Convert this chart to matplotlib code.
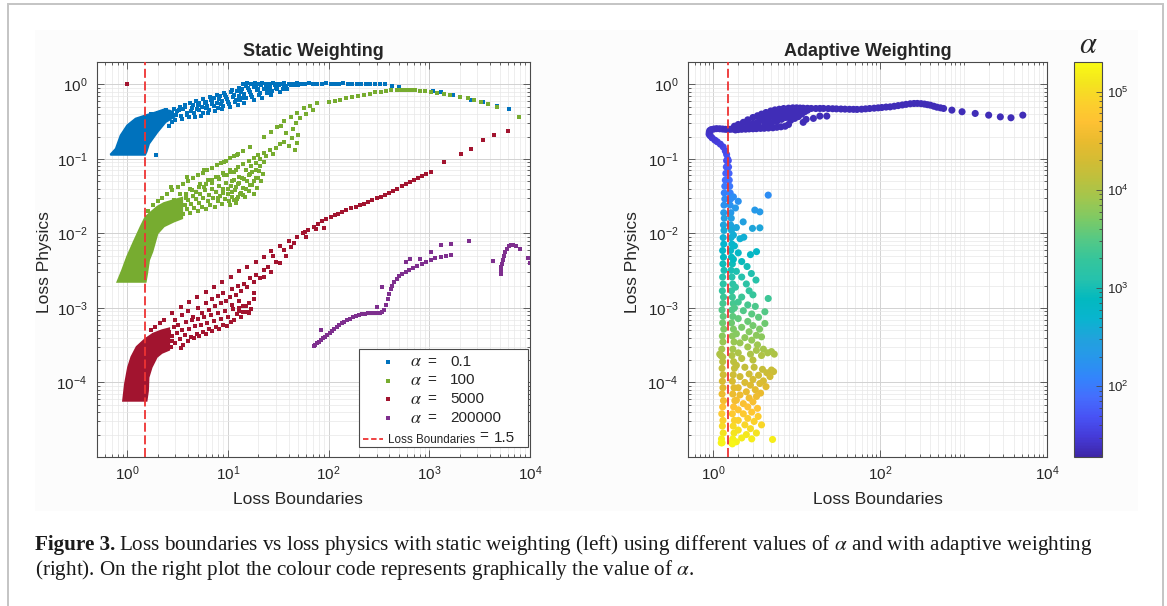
import numpy as np
import matplotlib
matplotlib.use("Agg")
import matplotlib.pyplot as plt
from matplotlib.colors import LinearSegmentedColormap, LogNorm
from matplotlib.ticker import FixedLocator, NullFormatter
from matplotlib.patches import Rectangle
from matplotlib.cm import ScalarMappable

plt.rcParams['font.family'] = ['Liberation Sans', 'DejaVu Sans']
plt.rcParams['mathtext.fontset'] = 'stix'

# ---------------------------------------------------------------- data
boundary_value = 1.5
alpha_labels = ["0.1", "100", "5000", "200000"]
series_colors = ["#0072BD", "#77AC30", "#A2142F", "#7E2F8E"]

# static weighting, alpha = 0.1 (dense core outline + individual points)
blue_core = [(0.68, 0.114), (0.77, 0.137), (0.86, 0.207), (1.0, 0.282), (1.21, 0.347),
             (1.52, 0.384), (1.9, 0.42), (2.31, 0.46), (2.7, 0.44), (2.91, 0.365),
             (2.4, 0.313), (1.99, 0.23), (1.64, 0.16), (1.55, 0.125), (1.5, 0.114)]
blue_pts = [(1.91, 0.114), (1.7, 0.40), (1.9, 0.36), (2.0, 0.42), (2.1, 0.30), (2.2, 0.38),
            (2.4, 0.45), (2.5, 0.35), (2.6, 0.28), (2.8, 0.42), (2.9, 0.47),
            (3.0, 0.33), (3.1, 0.44), (3.3, 0.50), (3.4, 0.38), (3.6, 0.47), (3.7, 0.53),
            (3.9, 0.42), (4.1, 0.36), (4.2, 0.57), (4.4, 0.49), (4.6, 0.41), (4.8, 0.60),
            (5.0, 0.53), (5.2, 0.45), (5.4, 0.38), (5.6, 0.63), (5.9, 0.56), (6.1, 0.48),
            (6.3, 0.42), (6.6, 0.67), (6.9, 0.59), (7.2, 0.51), (7.5, 0.44), (7.8, 0.72),
            (8.1, 0.63), (8.5, 0.54), (8.8, 0.47), (9.2, 0.77), (9.6, 0.68), (10, 0.58),
            (10.5, 0.50), (11, 0.84), (11.5, 0.72), (12, 0.62), (12.5, 0.53), (13, 0.90),
            (13.5, 0.78), (14, 0.66), (14.5, 0.57), (15, 0.95), (16, 0.84), (17, 0.72),
            (18, 0.62), (19, 0.98), (20, 0.88), (21, 0.76), (22, 0.66), (24, 0.93),
            (25, 0.82), (27, 0.72), (29, 0.97), (31, 0.86), (33, 0.78), (36, 0.95),
            (39, 0.88), (42, 0.98),
            (2.2, 0.33), (2.35, 0.41), (2.65, 0.37), (2.75, 0.31), (3.05, 0.39), (3.25, 0.45),
            (3.5, 0.34), (3.75, 0.50), (3.95, 0.39), (4.3, 0.44), (4.5, 0.53), (4.7, 0.37),
            (4.9, 0.47), (5.1, 0.56), (5.5, 0.50), (5.7, 0.41), (6.0, 0.59), (6.2, 0.52),
            (6.5, 0.45), (6.8, 0.62), (7.0, 0.55), (7.3, 0.66), (7.7, 0.57), (8.0, 0.49),
            (8.3, 0.69), (8.7, 0.60), (9.0, 0.52), (9.4, 0.73), (9.8, 0.64), (10.3, 0.55),
            (10.8, 0.78), (11.2, 0.68), (11.8, 0.58), (12.3, 0.82), (12.8, 0.71), (13.3, 0.61),
            (13.8, 0.86), (14.3, 0.75), (15.2, 0.66), (15.7, 0.90), (16.5, 0.79), (17.5, 0.68),
            (18.3, 0.93), (19.5, 0.83), (20.5, 0.72), (21.5, 0.97), (23, 0.87), (24.5, 0.76),
            (26, 0.92), (27.5, 0.82), (30, 0.9), (32, 0.97), (35, 0.88), (38, 0.95),
            (45, 0.97), (50, 0.99),
            (14, 1.02), (15.5, 1.03), (17, 1.02), (18.5, 1.03), (20, 1.02), (22, 1.03),
            (24, 1.02), (26, 1.02), (28, 1.03), (30, 1.02), (33, 1.02), (36, 1.03),
            (40, 1.02), (44, 1.02), (48, 1.03), (53, 1.02), (58, 1.02), (64, 1.03),
            (70, 1.02), (77, 1.02), (85, 1.02), (94, 1.03), (105, 1.02), (115, 1.02),
            (128, 1.02), (140, 1.03), (155, 1.02), (170, 1.02), (190, 1.02), (210, 1.02),
            (235, 1.02), (260, 1.01), (290, 1.01), (320, 1.0), (360, 1.0),
            (430, 0.96), (500, 0.93), (1100, 0.82), (1300, 0.78), (1700, 0.72),
            (2600, 0.62), (3400, 0.58), (4700, 0.52), (6200, 0.47)]

# static weighting, alpha = 100
green_core = [(0.80, 0.00225), (0.89, 0.0032), (1.0, 0.0049), (1.16, 0.0077), (1.36, 0.0123),
              (1.52, 0.0167), (1.99, 0.0228), (2.31, 0.0255), (2.9, 0.028), (3.5, 0.030),
              (3.5, 0.016), (2.9, 0.0145), (2.31, 0.0125), (1.99, 0.010), (1.77, 0.0057),
              (1.64, 0.0044), (1.57, 0.0029), (1.52, 0.00225)]
green_pts = [(1.6, 0.020), (1.8, 0.024), (2.0, 0.027), (2.2, 0.030), (2.5, 0.034), (2.8, 0.038),
             (3.2, 0.042), (3.6, 0.046), (4.0, 0.050), (4.5, 0.055), (5.0, 0.060), (5.6, 0.065),
             (6.2, 0.070), (7.0, 0.076), (7.8, 0.082), (8.6, 0.088), (9.5, 0.095), (10.5, 0.102),
             (11.5, 0.110), (12.5, 0.118), (14, 0.128),
             (2.4, 0.022), (2.9, 0.028), (3.3, 0.034), (3.8, 0.030), (4.2, 0.040), (4.8, 0.036),
             (5.3, 0.046), (5.8, 0.042), (6.4, 0.052), (7.0, 0.048), (7.6, 0.058), (8.2, 0.054),
             (9.0, 0.064), (9.8, 0.060), (10.5, 0.072), (11, 0.050), (11.5, 0.066), (12.5, 0.078),
             (13, 0.058), (14, 0.086), (15, 0.070), (16, 0.094), (17, 0.080), (18, 0.104),
             (19, 0.088), (20, 0.112), (21, 0.10), (23, 0.12), (24, 0.108), (26, 0.13),
             (28, 0.118), (30, 0.14), (33, 0.16), (36, 0.17), (40, 0.15), (43, 0.19),
             (46, 0.13), (48, 0.165), (50, 0.21),
             (3.6, 0.018), (3.7, 0.024), (3.9, 0.021), (4.0, 0.028), (4.2, 0.019), (4.3, 0.025),
             (4.5, 0.032), (4.6, 0.022), (4.8, 0.029), (5.0, 0.020), (5.1, 0.026), (5.3, 0.034),
             (5.5, 0.023), (5.7, 0.030), (5.9, 0.038), (6.1, 0.021), (6.3, 0.027), (6.5, 0.033),
             (6.7, 0.024), (6.9, 0.040), (7.1, 0.030), (7.4, 0.023), (7.6, 0.036), (7.9, 0.027),
             (8.2, 0.044), (8.4, 0.032), (8.7, 0.025), (9.0, 0.039), (9.3, 0.029), (9.6, 0.047),
             (9.9, 0.034), (10.2, 0.027), (10.6, 0.043), (11, 0.031), (11.4, 0.052),
             (11.8, 0.038), (12.2, 0.029), (12.7, 0.046), (13.2, 0.034), (13.7, 0.056),
             (14.2, 0.041), (14.8, 0.031), (15.4, 0.05), (16, 0.037), (16.7, 0.062),
             (17.4, 0.045), (18, 0.034), (18.8, 0.055), (19.5, 0.041), (20.5, 0.068),
             (21.5, 0.05), (22.5, 0.062), (3.3, 0.026), (3.4, 0.020), (3.8, 0.034), (4.4, 0.038),
             (5.2, 0.042), (6.0, 0.046), (7.0, 0.052), (8.0, 0.058), (9.2, 0.06), (10.5, 0.066),
             (12, 0.07),
             (10.5, 0.024), (11.5, 0.028), (12.5, 0.031), (13.5, 0.035), (15, 0.040),
             (16.5, 0.045), (18, 0.05), (20, 0.056), (11, 0.036), (12, 0.042), (13, 0.048),
             (14.5, 0.053), (16, 0.06), (17.5, 0.066), (19, 0.072), (21, 0.08), (22.8, 0.09),
             (10, 0.04), (9, 0.035), (8, 0.03), (12, 0.026), (14, 0.033),
             (2.7, 0.042), (3.95, 0.058), (5.8, 0.071), (9.1, 0.092), (12.4, 0.112),
             (16.7, 0.146), (22.8, 0.198), (27, 0.23), (31, 0.27), (36, 0.32), (42, 0.37),
             (49, 0.42), (57, 0.48), (66, 0.52), (77, 0.556), (44, 0.25), (38, 0.22),
             (47, 0.3), (52, 0.35), (60, 0.4), (70, 0.45), (34, 0.28),
             (100, 0.585), (115, 0.60), (130, 0.62), (150, 0.65), (170, 0.67), (195, 0.69),
             (225, 0.72), (255, 0.75), (290, 0.78), (330, 0.80), (370, 0.815), (420, 0.83),
             (480, 0.84), (520, 0.845), (560, 0.845), (610, 0.84), (660, 0.835), (720, 0.83),
             (800, 0.82), (900, 0.81), (1030, 0.80), (1200, 0.76), (1400, 0.74), (1620, 0.72),
             (2000, 0.68), (2400, 0.65), (2800, 0.62), (3250, 0.58), (3800, 0.54),
             (4700, 0.50), (7800, 0.36)]

# static weighting, alpha = 5000
red_core = [(0.91, 5.7e-5), (0.95, 9.5e-5), (1.02, 1.6e-4), (1.1, 2.2e-4), (1.24, 3.0e-4),
            (1.5, 3.8e-4), (1.8, 4.5e-4), (2.2, 5.0e-4), (2.6, 5.3e-4), (2.6, 2.75e-4),
            (2.2, 2.5e-4), (1.96, 2.2e-4), (1.74, 1.6e-4), (1.62, 1.17e-4), (1.6, 7.7e-5),
            (1.55, 5.7e-5)]
red_pts = [(1.0, 1.0), (1.9, 5.6e-4), (2.1, 6.2e-4), (1.7, 5.0e-4),
           (2.3, 6.8e-4), (2.8, 8.5e-4), (3.4, 1.03e-3), (4.1, 1.2e-3), (4.96, 1.4e-3),
           (6.0, 1.65e-3), (7.3, 1.9e-3), (8.8, 2.2e-3), (10.6, 2.6e-3), (12.8, 3.1e-3),
           (15.6, 3.6e-3), (19, 4.2e-3), (22.8, 4.9e-3), (27, 5.8e-3), (33, 6.7e-3),
           (40, 7.8e-3), (49, 9.1e-3), (58, 1.05e-2), (71, 1.23e-2), (86, 1.45e-2),
           (105, 1.67e-2), (125, 1.85e-2), (150, 2.06e-2), (185, 2.3e-2), (225, 2.5e-2),
           (270, 2.8e-2), (330, 3.1e-2), (400, 3.5e-2), (480, 4.0e-2), (590, 4.6e-2),
           (710, 5.2e-2), (850, 5.9e-2), (1030, 6.7e-2), (1400, 9.2e-2), (2050, 0.118),
           (2600, 0.138), (3400, 0.18), (4400, 0.21), (6000, 0.24),
           (55, 1.0e-2), (63, 1.1e-2), (78, 1.35e-2), (95, 1.55e-2), (115, 1.75e-2),
           (137, 1.95e-2), (165, 2.2e-2), (205, 2.4e-2), (245, 2.65e-2), (300, 2.95e-2),
           (360, 3.3e-2), (440, 3.75e-2), (530, 4.3e-2), (650, 4.9e-2), (780, 5.5e-2),
           (930, 6.2e-2), (60, 9.0e-3), (75, 1.15e-2), (90, 1.2e-2),
           (3.0, 7.0e-4), (3.5, 8.0e-4), (4.0, 9.0e-4), (4.5, 7.5e-4), (5.0, 1.0e-3),
           (5.5, 8.5e-4), (6.0, 1.15e-3), (6.5, 9.5e-4), (7.0, 1.3e-3), (7.5, 1.05e-3),
           (8.0, 1.45e-3), (8.5, 1.15e-3), (9.0, 1.6e-3), (9.5, 1.25e-3), (10.5, 1.4e-3),
           (11, 1.8e-3), (12, 1.5e-3), (12.5, 2.0e-3), (13.5, 1.7e-3), (14.4, 2.1e-3),
           (15.6, 1.9e-3), (16.5, 2.5e-3), (18, 2.2e-3), (19, 2.8e-3), (21, 2.5e-3),
           (22.8, 2.6e-3), (23, 3.2e-3), (25, 3.6e-3), (27, 3.0e-3), (30, 4.2e-3),
           (33, 4.0e-3), (36, 6.0e-3), (38, 5.0e-3), (42, 6.5e-3), (45, 7.5e-3),
           (15.6, 8.9e-4), (13, 1.25e-3), (18, 1.6e-3), (28, 5.0e-3), (11, 1.1e-3),
           (13, 9.0e-4), (14, 1.05e-3), (16, 1.15e-3), (18, 1.3e-3),
           (2.7, 3.0e-4), (2.8, 4.2e-4), (2.9, 5.5e-4), (3.0, 3.4e-4), (3.1, 4.6e-4),
           (3.2, 6.0e-4), (3.3, 3.8e-4), (3.5, 5.0e-4), (3.6, 3.2e-4), (3.7, 4.3e-4),
           (3.8, 6.4e-4), (4.0, 3.6e-4), (4.1, 5.3e-4), (4.3, 4.1e-4), (4.4, 6.8e-4),
           (4.6, 3.9e-4), (4.7, 5.7e-4), (4.9, 4.5e-4), (5.0, 7.1e-4), (5.2, 4.2e-4),
           (5.4, 6.0e-4), (5.6, 4.8e-4), (5.8, 7.5e-4), (6.0, 4.5e-4), (6.2, 6.3e-4),
           (6.5, 5.2e-4), (6.8, 8.0e-4), (7.0, 4.9e-4), (7.3, 6.7e-4), (7.6, 5.6e-4),
           (7.9, 8.5e-4), (8.2, 5.3e-4), (8.5, 7.1e-4), (8.9, 6.0e-4), (9.3, 9.0e-4),
           (9.7, 5.8e-4), (10.1, 7.6e-4), (10.6, 6.5e-4), (11.1, 9.6e-4), (11.6, 7.0e-4),
           (12.2, 8.2e-4), (12.8, 1.0e-3), (13.5, 7.6e-4), (14.2, 8.8e-4), (15, 1.05e-3),
           (16, 8.5e-4), (17, 9.6e-4), (2.5, 3.2e-4), (2.4, 4.0e-4), (2.6, 4.8e-4),
           (2.8, 3.6e-4), (3.4, 2.9e-4), (2.3, 2.8e-4), (2.1, 3.3e-4), (1.9, 2.6e-4)]

# static weighting, alpha = 200000
purple_pts = [(71, 3.1e-4), (74, 3.2e-4), (77, 3.35e-4), (80, 3.5e-4), (84, 3.7e-4),
              (88, 3.9e-4), (92, 4.1e-4), (97, 4.35e-4), (102, 4.6e-4), (108, 4.9e-4),
              (114, 5.2e-4), (120, 5.5e-4), (127, 5.85e-4), (135, 6.2e-4), (143, 6.55e-4),
              (152, 6.9e-4), (162, 7.2e-4), (173, 7.5e-4), (185, 7.8e-4), (198, 8.0e-4),
              (212, 8.2e-4), (228, 8.35e-4), (245, 8.45e-4), (263, 8.5e-4), (283, 8.5e-4),
              (303, 8.5e-4), (322, 8.55e-4), (340, 8.8e-4), (355, 9.5e-4), (370, 1.1e-3),
              (385, 1.3e-3), (400, 1.55e-3), (415, 1.8e-3), (430, 2.0e-3), (450, 2.2e-3),
              (475, 2.45e-3), (505, 2.65e-3), (540, 2.85e-3), (580, 3.05e-3), (630, 3.25e-3),
              (690, 3.45e-3), (760, 3.7e-3), (840, 3.95e-3), (930, 4.2e-3), (1030, 4.45e-3),
              (1150, 4.65e-3), (1300, 4.85e-3), (1450, 5.0e-3), (1650, 5.1e-3),
              (83, 5.0e-4), (300, 1.04e-3), (340, 1.9e-3), (590, 4.2e-3), (1030, 5.7e-3),
              (1300, 6.9e-3), (1650, 7.3e-3), (2450, 7.9e-3), (650, 4.5e-3), (800, 4.6e-3),
              (5100, 2.9e-3), (5150, 3.2e-3), (5200, 3.5e-3), (5250, 3.9e-3), (5350, 4.4e-3),
              (5500, 5.0e-3), (5700, 5.6e-3), (5900, 6.2e-3), (6150, 6.7e-3), (6450, 6.9e-3),
              (6800, 6.9e-3), (7200, 6.8e-3), (4300, 4.3e-3), (8000, 6.2e-3), (9500, 4.7e-3),
              (9900, 4.0e-3)]

# adaptive weighting: early iterations (lowest alpha), upper band
adapt_band_alpha = 22
adapt_band_pts = [(1.85, 0.245), (2.0, 0.248), (2.2, 0.250), (2.45, 0.251), (2.7, 0.253),
                  (3.0, 0.254), (3.3, 0.255), (3.7, 0.257), (4.1, 0.258), (4.6, 0.26),
                  (5.2, 0.262), (5.8, 0.266), (6.5, 0.27), (7.3, 0.275), (8.0, 0.29),
                  (1.8, 0.275), (2.0, 0.29), (2.3, 0.31), (2.6, 0.335), (3.0, 0.36),
                  (3.4, 0.38), (3.8, 0.40), (4.3, 0.42), (4.9, 0.44), (5.5, 0.455),
                  (6.2, 0.465), (7.0, 0.475), (8.0, 0.48), (9.0, 0.485), (10, 0.485),
                  (11, 0.482), (2.2, 0.27), (2.6, 0.285), (3.0, 0.30), (3.4, 0.31),
                  (3.8, 0.33), (4.2, 0.35), (4.7, 0.37), (5.2, 0.39), (5.8, 0.41),
                  (6.4, 0.43), (7.0, 0.44), (7.7, 0.45), (2.8, 0.265), (3.5, 0.28),
                  (4.2, 0.29), (5.0, 0.30), (5.8, 0.32), (6.6, 0.34), (7.4, 0.36),
                  (8.2, 0.38), (9.0, 0.40), (9.8, 0.42), (10.6, 0.44), (11.5, 0.46),
                  (4.6, 0.32), (5.4, 0.35), (6.0, 0.37), (6.8, 0.40), (7.6, 0.42),
                  (8.6, 0.44), (9.5, 0.46), (8.5, 0.33), (9.5, 0.35), (10.5, 0.37),
                  (11.5, 0.40), (12.5, 0.43), (13.5, 0.45), (15.9, 0.35), (19, 0.376),
                  (23, 0.376), (12, 0.31), (13, 0.34),
                  (12, 0.48), (13.5, 0.478), (15, 0.476), (17, 0.475), (19, 0.476),
                  (21, 0.476), (24, 0.474), (27, 0.472), (30, 0.47), (34, 0.468),
                  (38, 0.466), (43, 0.464), (48, 0.463), (53, 0.462), (60, 0.465),
                  (67, 0.47), (75, 0.475), (85, 0.48), (95, 0.485), (105, 0.49),
                  (118, 0.497), (132, 0.50), (148, 0.51), (165, 0.52), (185, 0.53),
                  (205, 0.54), (230, 0.55), (255, 0.555), (280, 0.556), (310, 0.552),
                  (340, 0.545), (370, 0.535), (400, 0.527), (440, 0.51), (480, 0.495),
                  (530, 0.485), (577, 0.476), (725, 0.452), (960, 0.43), (1380, 0.408),
                  (2000, 0.387), (2760, 0.367), (3700, 0.357), (5130, 0.387)]
# adaptive weighting: hook (x, y, alpha)
adapt_hook = [(1.49, 0.10, 50), (1.45, 0.115, 46), (1.40, 0.128, 42), (1.32, 0.145, 38),
              (1.22, 0.158, 35), (1.12, 0.170, 33), (1.05, 0.179, 31), (0.97, 0.192, 30),
              (0.92, 0.205, 29), (0.895, 0.215, 28), (0.90, 0.228, 27), (0.91, 0.240, 26),
              (0.95, 0.248, 25), (1.02, 0.252, 25), (1.1, 0.255, 24), (1.2, 0.254, 24),
              (1.3, 0.252, 24), (1.4, 0.250, 23), (1.5, 0.249, 23), (1.6, 0.250, 23),
              (1.7, 0.252, 23)]
# adaptive weighting: vertical column near the boundary line
col_y = [0.095, 0.078, 0.064, 0.052, 0.043, 0.035, 0.029, 0.024, 0.019, 0.016, 0.013,
         0.011, 0.0088, 0.0072, 0.0059, 0.0048, 0.0039, 0.0032, 0.0026, 0.0021, 0.0017,
         0.0014, 0.00115, 0.00094, 0.00077, 0.00063, 0.00052, 0.00042, 0.00035, 0.00028,
         0.00023, 0.00019, 0.000155, 0.000127, 0.000104, 8.5e-5, 7e-5, 5.7e-5, 4.7e-5,
         3.8e-5, 3.1e-5, 2.6e-5, 2.1e-5, 1.75e-5, 1.55e-5]
col_alpha = [45, 55, 65, 80, 95, 115, 140, 170, 210, 250, 300, 360, 430, 520, 620, 740,
             880, 1050, 1250, 1500, 1800, 2100, 2500, 3000, 3600, 4300, 5100, 6100, 7300,
             8700, 10500, 12500, 15000, 18000, 22000, 27000, 33000, 40000, 50000, 62000,
             78000, 95000, 120000, 150000, 170000]
col_xl = [1.45, 1.44, 1.42, 1.40, 1.38, 1.36, 1.38, 1.35, 1.34, 1.36, 1.33, 1.35, 1.32,
          1.34, 1.30, 1.33, 1.31, 1.35, 1.30, 1.32, 1.29, 1.33, 1.31, 1.28, 1.32, 1.30,
          1.34, 1.29, 1.31, 1.27, 1.24, 1.30, 1.28, 1.32, 1.29, 1.31, 1.28, 1.33, 1.30,
          1.27, 1.31, 1.29, 1.32, 1.26, 1.28]
col_xr = [1.52, 1.53, 1.55, 1.56, 1.58, 1.60, 1.62, 1.60, 1.63, 1.65, 1.62, 1.66, 1.64,
          1.68, 1.62, 1.66, 1.70, 1.64, 1.68, 1.72, 1.66, 1.70, 1.74, 1.68, 1.72, 1.66,
          1.75, 1.70, 1.78, 1.72, 1.68, 1.76, 1.80, 1.74, 1.70, 1.78, 1.72, 1.82, 1.76,
          1.70, 1.80, 1.74, 1.78, 1.72, 1.66]
col_scatter = [(4.57, 0.0327, 150), (2.0, 0.027, 170), (1.75, 0.031, 150), (1.85, 0.022, 200),
               (3.16, 0.0206, 210), (3.63, 0.0195, 220), (2.29, 0.0143, 280), (1.9, 0.012, 320),
               (2.96, 0.0117, 330), (3.63, 0.0119, 330), (1.75, 0.0095, 400), (2.1, 0.0085, 430),
               (2.33, 0.0089, 420), (1.8, 0.0068, 550), (3.31, 0.0057, 630), (2.8, 0.0052, 680),
               (2.0, 0.0055, 650), (1.75, 0.0045, 780), (2.2, 0.0042, 820), (2.55, 0.0036, 950),
               (2.87, 0.0029, 1150), (3.26, 0.00237, 1350), (1.9, 0.0031, 1100),
               (2.2, 0.0026, 1250), (2.5, 0.0021, 1500), (1.85, 0.0019, 1650),
               (2.7, 0.0017, 1800), (3.0, 0.0015, 2000), (2.2, 0.0014, 2100),
               (4.57, 0.00134, 2200), (2.0, 0.0012, 2400), (2.6, 0.0011, 2600),
               (3.2, 0.00105, 2700), (1.8, 0.001, 2800), (2.3, 0.00092, 3000),
               (4.17, 0.00089, 3100), (2.9, 0.00083, 3300), (3.5, 0.00075, 3600),
               (2.0, 0.00072, 3700), (2.6, 0.00066, 4000), (4.17, 0.00062, 4200),
               (3.0, 0.00058, 4500), (2.2, 0.00055, 4700), (3.6, 0.00052, 5000),
               (2.7, 0.00048, 5400), (1.9, 0.00045, 5700), (3.3, 0.00043, 6000),
               (3.8, 0.00041, 6200), (2.4, 0.0004, 6300), (2.9, 0.00037, 6800),
               (2.1, 0.00034, 7300), (3.4, 0.00032, 7800), (2.6, 0.0003, 8200),
               (4.0, 0.00028, 8700), (3.3, 0.00027, 9000), (5.0, 0.00026, 9200),
               (4.5, 0.00025, 9500), (2.0, 0.00025, 9600), (2.8, 0.00024, 9800),
               (3.8, 0.00023, 10500), (1.2, 0.00024, 10000), (1.3, 0.00022, 11000),
               (5.4, 0.00024, 10000), (2.2, 0.00021, 11500), (3.0, 0.0002, 12000),
               (1.9, 0.00017, 14000), (2.4, 0.00016, 14500), (3.1, 0.00016, 14500),
               (3.9, 0.00015, 15500), (5.0, 0.000147, 16000), (5.3, 0.00014, 17000),
               (4.4, 0.000135, 17500), (2.7, 0.00013, 18000), (3.5, 0.000125, 18500),
               (2.1, 0.00012, 19000), (4.8, 0.00012, 19500), (3.0, 0.00011, 21000),
               (4.0, 0.000105, 21500), (2.4, 0.0001, 22500), (3.63, 9.7e-5, 23500),
               (2.8, 9.2e-5, 25000), (4.3, 8.8e-5, 26000), (2.0, 8.5e-5, 27000),
               (3.2, 8.0e-5, 29000), (2.5, 7.5e-5, 31000), (3.7, 7.2e-5, 32000),
               (2.1, 6.8e-5, 34000), (3.31, 6.5e-5, 35000), (2.7, 6.2e-5, 37000),
               (1.9, 5.8e-5, 39000), (3.0, 5.5e-5, 42000), (2.3, 5.2e-5, 44000),
               (2.6, 4.7e-5, 50000), (3.4, 4.5e-5, 52000), (2.0, 4.3e-5, 55000),
               (2.9, 4.0e-5, 58000), (2.3, 3.8e-5, 62000), (3.46, 3.5e-5, 68000),
               (2.6, 3.3e-5, 72000), (2.0, 3.1e-5, 78000), (3.1, 3.0e-5, 80000),
               (3.8, 2.7e-5, 90000), (2.4, 2.7e-5, 90000), (2.8, 2.4e-5, 100000),
               (2.0, 2.3e-5, 110000), (3.3, 2.1e-5, 120000), (2.5, 2.0e-5, 125000),
               (2.2, 1.8e-5, 140000), (5.15, 1.72e-5, 145000), (2.9, 1.75e-5, 145000),
               (1.9, 1.6e-5, 160000), (1.25, 1.55e-5, 170000), (1.7, 1.5e-5, 175000)]

alpha_range = (19, 2.0e5)
cbar_ticks = [1e2, 1e3, 1e4, 1e5]

# parula colour map key colours
parula_keys = [(0.2422, 0.1504, 0.6603), (0.2691, 0.2304, 0.8470), (0.2810, 0.3228, 0.9579),
               (0.2691, 0.4290, 0.9926), (0.1986, 0.5217, 0.9870), (0.1540, 0.5902, 0.9218),
               (0.1280, 0.6386, 0.8627), (0.0356, 0.7071, 0.8104), (0.0118, 0.7243, 0.7497),
               (0.1480, 0.7596, 0.6754), (0.2073, 0.7738, 0.6104), (0.3300, 0.7860, 0.5240),
               (0.4800, 0.7910, 0.4030), (0.6192, 0.7796, 0.3147), (0.7305, 0.7561, 0.2458),
               (0.8260, 0.7371, 0.2048), (0.9119, 0.7325, 0.1821), (0.9956, 0.7574, 0.2016),
               (0.9847, 0.8173, 0.1711), (0.9554, 0.8992, 0.1174), (0.9769, 0.9839, 0.0805)]

caption_bold = "Figure 3."
caption_line1 = "Loss boundaries vs loss physics with static weighting (left) using different values of $\\alpha$ and with adaptive weighting"
caption_line2 = "(right). On the right plot the colour code represents graphically the value of $\\alpha$."

# ---------------------------------------------------------------- figure
W, H = 1167, 606
fig = plt.figure(figsize=(W / 100, H / 100), dpi=100)
fig.patch.set_facecolor('white')


def rect(x0, y0, x1, y1):
    return [x0 / W, 1 - y1 / H, (x1 - x0) / W, (y1 - y0) / H]


def fx(x):
    return x / W


def fy(y):
    return 1 - y / H


# page frame and chart background
fig.add_artist(Rectangle((fx(35), fy(511)), (1138 - 35) / W, (511 - 30) / H,
                         transform=fig.transFigure, fc='#fcfcfc', ec='none', zorder=-10))
fig.add_artist(Rectangle((fx(8), -0.1), (1163 - 8) / W, 0.1 + fy(4),
                         transform=fig.transFigure, fill=False, ec='#c4c4c4', lw=1.4, zorder=-9))

cmap = LinearSegmentedColormap.from_list('parula', parula_keys)
norm = LogNorm(*alpha_range)

spine_c = '#4a4a4a'


def style_axes(ax, major_x):
    ax.set_xscale('log')
    ax.set_yscale('log')
    ax.set_xlim(0.5, 1e4)
    ax.set_ylim(1e-5, 2)
    ax.xaxis.set_major_locator(FixedLocator(major_x))
    ax.yaxis.set_major_locator(FixedLocator([1e-4, 1e-3, 1e-2, 1e-1, 1]))
    minx = [m * 10.0 ** d for d in range(-1, 4) for m in range(1, 10)]
    miny = [m * 10.0 ** d for d in range(-5, 1) for m in range(1, 10)]
    ax.xaxis.set_minor_locator(FixedLocator(minx))
    ax.yaxis.set_minor_locator(FixedLocator(miny))
    ax.xaxis.set_minor_formatter(NullFormatter())
    ax.yaxis.set_minor_formatter(NullFormatter())
    ax.grid(which='major', color='#d2d2d2', lw=0.7)
    ax.grid(which='minor', color='#e8e8e8', lw=0.5)
    ax.set_axisbelow(True)
    ax.tick_params(which='both', direction='in', top=True, right=True, colors=spine_c,
                   labelcolor='#262626', width=0.6)
    ax.tick_params(which='major', length=5, labelsize=11)
    ax.tick_params(axis='x', which='major', pad=5)
    ax.tick_params(axis='y', which='major', pad=7)
    ax.tick_params(which='minor', length=2.5)
    for s in ax.spines.values():
        s.set_color(spine_c)
        s.set_linewidth(0.8)


# ---------------- left: static weighting
L_px = (97, 62, 530, 457)
axL = fig.add_axes(rect(*L_px))
style_axes(axL, [1, 10, 100, 1e3, 1e4])
mk = dict(marker='s', s=7, linewidths=0)
for core, pts, c in [(blue_core, blue_pts, series_colors[0]),
                     (green_core, green_pts, series_colors[1]),
                     (red_core, red_pts, series_colors[2])]:
    cx, cy = zip(*core)
    axL.fill(cx, cy, color=c, lw=1.5, ec=c, zorder=2)
    px, py = zip(*pts)
    axL.scatter(px, py, color=c, zorder=2, **mk)
px, py = zip(*purple_pts)
axL.scatter(px, py, color=series_colors[3], zorder=2, marker='s', s=11, linewidths=0)
axL.axvline(boundary_value, color='#ee3333', lw=1.3, ls=(0, (5, 2)), zorder=3)


def ax_frac(ax_px, x, y):
    x0, y0, x1, y1 = ax_px
    return (x - x0) / (x1 - x0), (y1 - y) / (y1 - y0)


# manual legend
lg_x0, lg_x1, lg_y0, lg_y1 = 359, 528, 349, 447
a0 = ax_frac(L_px, lg_x0, lg_y1)
a1 = ax_frac(L_px, lg_x1, lg_y0)
axL.add_patch(Rectangle(a0, a1[0] - a0[0], a1[1] - a0[1], transform=axL.transAxes,
                        fc='white', ec=spine_c, lw=0.8, zorder=5))
row_y = [361.7, 380.5, 399.3, 418.3]
for lab, c, ry in zip(alpha_labels, series_colors, row_y):
    mx, my = ax_frac(L_px, 388, ry)
    axL.plot([mx], [my], 's', ms=2.6, color=c, mew=0, transform=axL.transAxes, zorder=6)
    tx, ty = ax_frac(L_px, 410, ry)
    axL.text(tx, ty, r'$\alpha$', fontsize=13, transform=axL.transAxes, va='center',
             ha='left', zorder=6, color='#262626')
    tx, ty = ax_frac(L_px, 427, ry)
    axL.text(tx, ty, '=', fontsize=11, transform=axL.transAxes, va='center', ha='left',
             zorder=6, color='#262626')
    tx, ty = ax_frac(L_px, 450, ry)
    axL.text(tx, ty, lab, fontsize=11, transform=axL.transAxes, va='center', ha='left',
             zorder=6, color='#262626')
lx0, ly0 = ax_frac(L_px, 363, 439)
lx1, _ = ax_frac(L_px, 383, 439)
axL.plot([lx0, lx1], [ly0, ly0], color='#ee3333', lw=1.3, ls=(0, (3, 1.5)),
         transform=axL.transAxes, zorder=6)
tx, ty = ax_frac(L_px, 388, 440)
axL.text(tx, ty, 'Loss Boundaries', fontsize=8.4, transform=axL.transAxes, va='center',
         ha='left', zorder=6, color='#262626')
tx, ty = ax_frac(L_px, 479, 436.5)
axL.text(tx, ty, '=', fontsize=11, transform=axL.transAxes, va='center', ha='left',
         zorder=6, color='#262626')
tx, ty = ax_frac(L_px, 494, 438)
axL.text(tx, ty, '%g' % boundary_value, fontsize=11, transform=axL.transAxes,
         va='center', ha='left', zorder=6, color='#262626')

fig.text(fx(313.5), fy(51), 'Static Weighting', fontsize=13, fontweight='bold',
         ha='center', va='center', color='#262626')
fig.text(fx(298), fy(500), 'Loss Boundaries', fontsize=12.5, ha='center', va='center',
         color='#262626')
fig.text(fx(45), fy(262), 'Loss Physics', fontsize=12.5, ha='center', va='center',
         rotation=90, color='#262626')

# ---------------- right: adaptive weighting
axR = fig.add_axes(rect(688, 62, 1047, 457))
style_axes(axR, [1, 1e2, 1e4])
ck = dict(marker='o', s=26, linewidths=0, cmap=cmap, norm=norm, zorder=2)
axR.scatter(col_xl, col_y, c=col_alpha, **ck)
axR.scatter(col_xr, col_y, c=col_alpha, **ck)
sx, sy, sa = zip(*col_scatter)
axR.scatter(sx, sy, c=sa, **ck)
hx, hy, ha_ = zip(*adapt_hook)
axR.scatter(hx, hy, c=ha_, **ck)
bx, by = zip(*adapt_band_pts)
axR.scatter(bx, by, c=[adapt_band_alpha] * len(bx), **ck)
axR.axvline(boundary_value, color='#ee3333', lw=1.3, ls=(0, (5, 2)), zorder=3)

fig.text(fx(868), fy(51), 'Adaptive Weighting', fontsize=13, fontweight='bold',
         ha='center', va='center', color='#262626')
fig.text(fx(878), fy(500), 'Loss Boundaries', fontsize=12.5, ha='center', va='center',
         color='#262626')
fig.text(fx(633), fy(262), 'Loss Physics', fontsize=12.5, ha='center', va='center',
         rotation=90, color='#262626')

# colour bar
cax = fig.add_axes(rect(1074, 62, 1102, 457))
cb = fig.colorbar(ScalarMappable(norm=norm, cmap=cmap), cax=cax)
cb.set_ticks(cbar_ticks)
cax.tick_params(which='both', direction='in', colors=spine_c, labelcolor='#262626',
                labelsize=9.5, width=0.6)
cax.tick_params(which='major', length=4)
cax.tick_params(which='minor', length=2)
cb.outline.set_edgecolor(spine_c)
cb.outline.set_linewidth(0.8)
fig.text(fx(1088), fy(45), r'$\alpha$', fontsize=22, ha='center', va='center',
         color='#262626')

# caption
cap_font = dict(family=['Liberation Serif', 'DejaVu Serif'], size=15.2, color='#1a1a1a')
t_bold = fig.text(fx(35), fy(550), caption_bold, fontweight='bold', va='baseline',
                  ha='left', **cap_font)
renderer = fig.canvas.get_renderer()
bb = t_bold.get_window_extent(renderer)
fig.text((bb.x1 + 4) / W, fy(550), caption_line1, va='baseline', ha='left', **cap_font)
fig.text(fx(35), fy(575), caption_line2, va='baseline', ha='left', **cap_font)

fig.savefig('out.png', dpi=100, facecolor='white')
